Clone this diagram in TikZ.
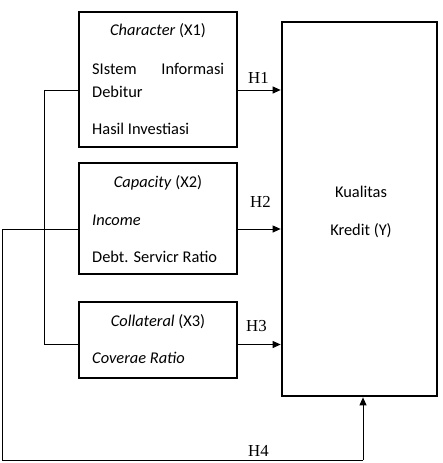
\documentclass[tikz,border=0pt]{standalone}
\usepackage{fontspec}
\setmainfont{Carlito}
\newfontfamily\hfont{Liberation Serif}
\usetikzlibrary{arrows.meta}
\tikzset{
  box/.style={draw, line width=2.7pt, rectangle, inner sep=0pt},
  txt/.style={inner sep=0pt, font=\fontsize{16.4}{19}\selectfont},
  lab/.style={inner sep=0pt, anchor=base west, font=\hfont\fontsize{16.8}{19}\selectfont},
  conn/.style={line width=1pt},
  arr/.style={line width=1pt, -{Triangle[length=8pt,width=7pt]}},
}
\begin{document}
\begin{tikzpicture}[x=1pt,y=-1pt]
\useasboundingbox (0,0) rectangle (442,463);
% boxes
\node[box, minimum width=158pt, minimum height=135pt] (X1) at (158,79.5) {};
\node[box, minimum width=158pt, minimum height=111pt] (X2) at (158,218.5) {};
\node[box, minimum width=158pt, minimum height=76pt] (X3) at (158,340) {};
\node[box, minimum width=155pt, minimum height=374pt] (Y) at (359.5,209) {};
% texts X1
\node[txt, anchor=base] (t11) at (158,35.5) {\textit{Character} (X1)};
\node[txt, anchor=base west] (t12) at (92,74) {\makebox[132pt][s]{SIstem\hfill Informasi}};
\node[txt, anchor=base west] (t13) at (92,97) {Debitur};
\node[txt, anchor=base west] (t14) at (92,134) {Hasil Investiasi};
% texts X2
\node[txt, anchor=base] (t21) at (158,187) {\textit{Capacity} (X2)};
\node[txt, anchor=base west] (t22) at (92,225) {\textit{Income}};
\node[txt, anchor=base west] (t23) at (92,262) {Debt. Servicr Ratio};
% texts X3
\node[txt, anchor=base] (t31) at (158,326) {\textit{Collateral} (X3)};
\node[txt, anchor=base west] (t32) at (92,363) {\textit{Coverae Ratio}};
% texts Y
\node[txt, anchor=base] (ty1) at (361,197.5) {Kualitas};
\node[txt, anchor=base] (ty2) at (361,235) {Kredit (Y)};
% hypothesis labels
\node[lab] (H1) at (248,83) {H1};
\node[lab] (H2) at (250,207) {H2};
\node[lab] (H3) at (246,331) {H3};
\node[lab] (H4) at (248,456) {H4};
% helper coordinates
\coordinate (h1) at (0,90);
\coordinate (h2) at (0,229);
\coordinate (h3) at (0,344.5);
\coordinate (la) at (44,0);
\coordinate (lb) at (2,460);
\coordinate (lc) at (363,460);
% arrows
\draw[arr] (X1.east |- h1) -- (Y.west |- h1);
\draw[arr] (X2.east |- h2) -- (Y.west |- h2);
\draw[arr] (X3.east |- h3) -- (Y.west |- h3);
% left connectors
\draw[conn] (X1.west |- h1) -| (la |- h3) -- (X3.west |- h3);
\draw[conn] (X2.west |- h2) -| (lb) -- (lc);
\draw[arr] (lc) -- (lc |- Y.south);
\end{tikzpicture}
\end{document}
